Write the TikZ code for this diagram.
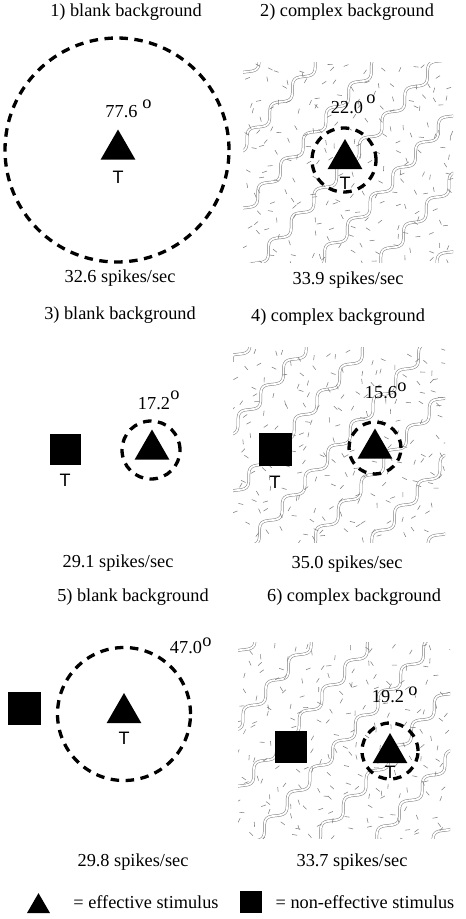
\documentclass[tikz,border=0pt]{standalone}
\usepackage{fontspec}
\setmainfont{Liberation Serif}
\newfontfamily\teefont{Liberation Sans}
\usetikzlibrary{shapes.geometric}
\newcommand\texbg[4]{%
 \begin{scope}
  \clip (#1,#2) rectangle (#3,#4);
  \pgfmathsetmacro\cxx{(#1+#3)/2}
  \pgfmathsetmacro\cyy{(#2+#4)/2}
  \foreach \k in {-5,...,5} {
     \draw[wave] plot[domain=-180:180, samples=160, smooth]
       ({\cxx + \x*0.6691 + (\k*45 + 5*sin(\x*10.6))*0.7431},
        {\cyy - \x*0.7431 + (\k*45 + 5*sin(\x*10.6))*0.6691});
  }
  \foreach \gx in {0,...,14} {
   \foreach \gy in {0,...,14} {
    \pgfmathsetmacro\px{#1+(\gx+rnd)*(#3-#1)/14.5}
    \pgfmathsetmacro\py{#2+(\gy+rnd)*(#4-#2)/14.5}
    \pgfmathsetmacro\pa{rnd*180}
    \draw[speck] (\px,\py) -- ++(\pa:5);
   }
  }
 \end{scope}}
\begin{document}
\begin{tikzpicture}[x=1pt,y=-1pt,
  lbl/.style={font=\fontsize{18.3}{20}\selectfont, inner sep=0pt},
  tee/.style={font=\teefont\fontsize{18}{20}\selectfont, inner sep=0pt},
  rf/.style={circle, draw=black, line width=3.3pt, dash pattern=on 8.5pt off 6.5pt, inner sep=0pt},
  tri/.style={regular polygon, regular polygon sides=3, fill=black, inner sep=0pt, minimum size=#1},
  tri/.default=40pt,
  sq/.style={fill=black, inner sep=0pt, minimum size=#1},
  sq/.default=31pt,
  wave/.style={draw=black!50, line width=0.5pt, double=white, double distance=1.8pt},
  speck/.style={draw=black!50, line width=0.55pt}]
\useasboundingbox[fill=white] (0,0) rectangle (466,919);
\pgfmathsetseed{7}

% ---------- panel 1
\node[lbl] (h1) at (126,12) {1) blank background};
\node[rf, minimum size=224pt] (c1) at (117,150) {};
\node[tri] (t1) at (118,149.5) {};
\node[tee] (T1) at (118,177) {T};
\node[lbl] (d1) at (121.5,112) {77.6};
\node[lbl] (o1) at (147,104) {o};
\node[lbl] (r1) at (120,278) {32.6 spikes/sec};

% ---------- panel 2
\node[lbl] (h2) at (347,12) {2) complex background};
\texbg{243}{62}{453}{262}
\node[rf, minimum size=64pt] (c2) at (344,160) {};
\node[tri] (t2) at (345,159) {};
\node[tee] (T2) at (345,183) {T};
\node[lbl] (d2) at (347,108) {22.0};
\node[lbl] (o2) at (371,99) {o};
\node[lbl] (r2) at (348,280) {33.9 spikes/sec};

% ---------- panel 3
\node[lbl] (h3) at (120,315) {3) blank background};
\node[sq] (s3) at (65.5,449.5) {};
\node[tee] (T3) at (65,480) {T};
\node[rf, minimum size=58pt] (c3) at (151,450) {};
\node[tri] (t3) at (152,449.5) {};
\node[lbl] (d3) at (154,404) {17.2};
\node[lbl] (o3) at (175,395) {o};
\node[lbl] (r3) at (118,563) {29.1 spikes/sec};

% ---------- panel 4
\node[lbl] (h4) at (338,317) {4) complex background};
\texbg{233}{347}{445}{542}
\node[sq=33pt] (s4) at (275.5,449) {};
\node[tee] (T4) at (275,482) {T};
\node[rf, minimum size=52pt] (c4) at (375,448) {};
\node[tri] (t4) at (375,448.5) {};
\node[lbl] (d4) at (381,393) {15.6};
\node[lbl] (o4) at (402,387) {o};
\node[lbl] (r4) at (347,564) {35.0 spikes/sec};

% ---------- panel 5
\node[lbl] (h5) at (133,597) {5) blank background};
\node[sq=33pt] (s5) at (24.5,708) {};
\node[rf, minimum size=133pt] (c5) at (124,714) {};
\node[tri] (t5) at (124,713) {};
\node[tee] (T5) at (124,738) {T};
\node[lbl] (d5) at (186,648) {47.0};
\node[lbl] (o5) at (207,642) {o};
\node[lbl] (r5) at (133,862) {29.8 spikes/sec};

% ---------- panel 6
\node[lbl] (h6) at (354,597) {6) complex background};
\texbg{238}{642}{450}{838}
\node[sq=32pt] (s6) at (291,746.5) {};
\node[rf, minimum size=56pt] (c6) at (390,751) {};
\node[tri] (t6) at (390,753) {};
\node[tee] (T6) at (390,772) {T};
\node[lbl] (d6) at (388,697) {19.2};
\node[lbl] (o6) at (413,691) {o};
\node[lbl] (r6) at (352,862) {33.7 spikes/sec};

% ---------- legend
\node[tri=26.6pt] (lt) at (38.5,906.4) {};
\node[lbl] (le) at (146,902) {= effective stimulus};
\node[sq=22pt] (ls) at (251,902) {};
\node[lbl] (ln) at (365,902) {= non-effective stimulus};
\end{tikzpicture}
\end{document}
